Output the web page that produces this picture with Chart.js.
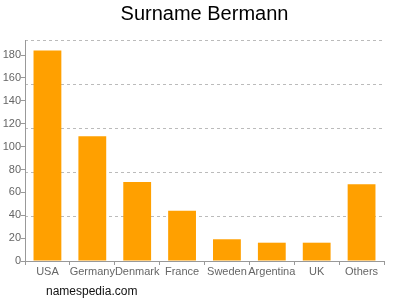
<!DOCTYPE html>
<html>
<head>
<meta charset="utf-8">
<script src="https://cdn.jsdelivr.net/npm/chart.js@4/dist/chart.umd.min.js"></script>
<style>
  html, body { margin: 0; padding: 0; background: #fff; }
  #wrap { position: relative; width: 400px; height: 300px; }
  #fuente { position: absolute; left: 46px; top: 284px; font: 12px "Liberation Sans", Arial, sans-serif; color: #111; }
</style>
</head>
<body>
<div id="wrap">
  <canvas id="grafico" width="400" height="300"></canvas>
  <div id="fuente">namespedia.com</div>
</div>
<script>
// Datos
const paises = ["USA", "Germany", "Denmark", "France", "Sweden", "Argentina", "UK", "Others"];
const valores = [184, 109, 69, 44, 19, 16, 16, 67];
const titulo = "Surname Bermann";
const pasoEtiquetas = 20;
const divisionesRejilla = 5;

const maximo = Math.max(...valores) * 1.05;
const fuente = '"Liberation Sans", Arial, sans-serif';

new Chart(document.getElementById('grafico'), {
    type: 'bar',
    data: {
        labels: paises,
        datasets: [{
            data: valores,
            backgroundColor: '#ffa000',
            barPercentage: 0.62,
            categoryPercentage: 1
        }]
    },
    options: {
        responsive: false,
        animation: false,
        devicePixelRatio: 1,
        layout: { padding: { left: 0, right: 16, top: 0, bottom: 17 } },
        plugins: {
            legend: { display: false },
            tooltip: { enabled: false },
            title: {
                display: true,
                text: titulo,
                fullSize: false,
                color: '#000',
                font: { family: fuente, size: 20, weight: 'normal' },
                padding: { top: 2, bottom: 14 }
            }
        },
        scales: {
            x: {
                offset: true,
                grid: { drawOnChartArea: false, tickLength: 4, color: '#999' },
                border: { color: '#999' },
                ticks: {
                    autoSkip: false, maxRotation: 0, minRotation: 0, padding: 0,
                    color: '#666', font: { family: fuente, size: 11 }
                },
                afterFit: function(scale) { scale.height = 22; }
            },
            y: {
                min: 0,
                max: maximo,
                grid: { drawOnChartArea: false, tickLength: 4, color: '#999' },
                border: { color: '#999' },
                ticks: {
                    padding: 0,
                    color: '#666', font: { family: fuente, size: 11 }
                },
                afterBuildTicks: function(scale) {
                    const t = [];
                    for (let v = 0; v <= maximo; v += pasoEtiquetas) t.push({ value: v });
                    scale.ticks = t;
                },
                afterFit: function(scale) { scale.width = 25; }
            },
            rejilla: {
                position: 'left',
                min: 0,
                max: maximo,
                border: { display: false, dash: [3, 3] },
                grid: { color: '#bbb', drawTicks: false, tickLength: 0 },
                ticks: { display: false },
                afterBuildTicks: function(scale) {
                    const t = [];
                    for (let i = 1; i <= divisionesRejilla; i++) t.push({ value: maximo * i / divisionesRejilla });
                    scale.ticks = t;
                },
                afterFit: function(scale) { scale.width = 0; }
            }
        }
    }
});
</script>
</body>
</html>
